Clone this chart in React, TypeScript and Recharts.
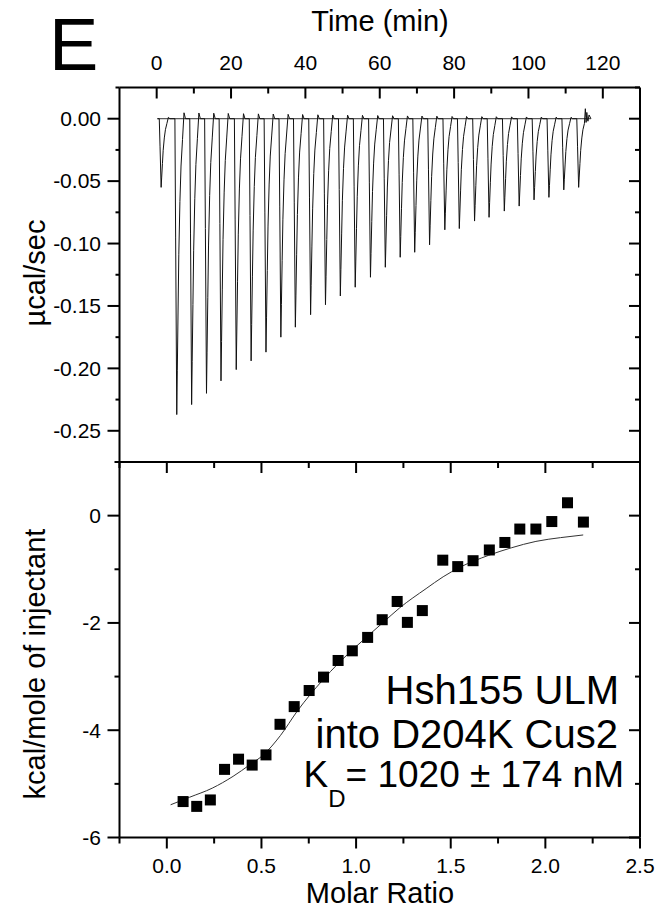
import React from 'react';
import { LineChart, ComposedChart, Line, Scatter, XAxis, YAxis } from 'recharts';

const FONT = "'Liberation Sans', Arial, Helvetica, sans-serif";

// upper panel: raw injection peaks (time of minimum in min, depth in µcal/sec)
const peakTimes = [
  1.2, 5.4, 9.4, 13.4, 17.3, 21.4, 25.4, 29.4, 33.4, 37.3, 41.4, 45.4, 49.4, 53.4, 57.5,
  61.5, 65.5, 69.4, 73.4, 77.5, 81.4, 85.5, 89.4, 93.5, 97.5, 101.5, 105.5, 109.5, 113.5,
];
const peakDepths = [
  -0.055, -0.237, -0.229, -0.22, -0.21, -0.201, -0.194, -0.187, -0.175, -0.167, -0.157, -0.149,
  -0.142, -0.135, -0.127, -0.119, -0.111, -0.107, -0.101, -0.089, -0.088, -0.082, -0.079, -0.074,
  -0.07, -0.065, -0.063, -0.057, -0.055,
];
// shape of a single peak around its minimum (min offset, fraction of depth)
const peakShapeDt = [-0.5, -0.3, 0, 0.15, 0.35, 0.55, 0.85, 1.15, 1.55, 1.95, 2.35];
const peakShapeFrac = [0, 0.4, 1, 0.85, 0.65, 0.46, 0.28, 0.16, 0.07, -0.02, 0];
// noisy end of the run
const tailTimes = [115.3, 115.5, 115.7, 116.0, 116.3, 116.8];
const tailPower = [0.008, -0.003, 0.005, -0.002, 0.003, 0];
const baselineTimes = [0.2, 116.8];

// lower panel: integrated heats
const molarRatio = [
  0.086, 0.158, 0.23, 0.305, 0.379, 0.451, 0.524, 0.598, 0.673, 0.752, 0.828, 0.905, 0.98, 1.061,
  1.138, 1.217, 1.271, 1.35, 1.458, 1.537, 1.618, 1.704, 1.786, 1.865, 1.95, 2.034, 2.117, 2.201,
];
const heat = [
  -5.33, -5.42, -5.3, -4.73, -4.54, -4.65, -4.46, -3.89, -3.56, -3.26, -3.01, -2.7, -2.52, -2.27,
  -1.94, -1.6, -1.99, -1.77, -0.83, -0.95, -0.84, -0.64, -0.5, -0.25, -0.25, -0.11, 0.24, -0.12,
];
const fitRatio = [
  0.02, 0.12, 0.24, 0.35, 0.44, 0.51, 0.6, 0.69, 0.82, 0.91, 1.0, 1.14, 1.23, 1.37, 1.46, 1.55,
  1.7, 1.82, 1.95, 2.08, 2.2,
];
const fitHeat = [
  -5.39, -5.25, -5.08, -4.86, -4.64, -4.46, -4.1, -3.64, -3.08, -2.74, -2.44, -2.0, -1.72, -1.36,
  -1.14, -0.96, -0.74, -0.6, -0.48, -0.41, -0.36,
];

// ticks
const timeTicks = [0, 10, 20, 30, 40, 50, 60, 70, 80, 90, 100, 110, 120];
const powerTicks = [
  -0.275, -0.25, -0.225, -0.2, -0.175, -0.15, -0.125, -0.1, -0.075, -0.05, -0.025, 0, 0.025,
];
const ratioTicks = [-0.25, 0, 0.25, 0.5, 0.75, 1, 1.25, 1.5, 1.75, 2, 2.25, 2.5];
const heatTicks = [-6, -5, -4, -3, -2, -1, 0, 1];

// layout (page pixels)
const W = 664;
const H = 913;
const L = 119.5;
const R = 640;
const T1 = 87.5;
const MID = 462;
const B2 = 837.5;

const trace: { t: number; p: number }[] = [{ t: 0.2, p: 0 }];
peakTimes.forEach((tm, i) => {
  peakShapeDt.forEach((dt, j) => {
    trace.push({ t: tm + dt, p: peakDepths[i] * peakShapeFrac[j] });
  });
});
tailTimes.forEach((t, i) => trace.push({ t, p: tailPower[i] }));
trace.sort((a, b) => a.t - b.t);

const baseline = baselineTimes.map((t) => ({ t, p: 0 }));
const points = molarRatio.map((x, i) => ({ x, y: heat[i] }));
const fit = fitRatio.map((x, i) => ({ x, y: fitHeat[i] }));

const frame = { stroke: '#000', strokeWidth: 2 };
const near = (a: number, b: number) => Math.abs(a - b) < 1e-6;
const isMult = (v: number, step: number) => near(Math.round(v / step) * step, v);

const labelStyle = { fontFamily: FONT, fontSize: 21, fill: '#000' };

const TimeTick = (p: any) => {
  const v = p.payload.value;
  const major = isMult(v, 20);
  return (
    <g>
      <line x1={p.x} x2={p.x} y1={T1} y2={T1 + (major ? 11 : 6)} stroke="#000" strokeWidth={2} />
      {major && (
        <text x={p.x} y={70} textAnchor="middle" {...labelStyle}>
          {v}
        </text>
      )}
    </g>
  );
};

const PowerLeftTick = (p: any) => {
  const v = p.payload.value;
  const major = isMult(v, 0.05);
  const show = major && v > -0.27 && v < 0.01;
  return (
    <g>
      <line x1={L - (major ? 12 : 4)} x2={L} y1={p.y} y2={p.y} stroke="#000" strokeWidth={2} />
      {show && (
        <text x={101} y={p.y} dy="0.35em" textAnchor="end" {...labelStyle}>
          {v.toFixed(2)}
        </text>
      )}
    </g>
  );
};

const makeRightTick = (step: number) => (p: any) => {
  const major = isMult(p.payload.value, step);
  return <line x1={R - (major ? 11 : 5)} x2={R} y1={p.y} y2={p.y} stroke="#000" strokeWidth={2} />;
};

const RatioTick = (p: any) => {
  const v = p.payload.value;
  const major = isMult(v, 0.5);
  return (
    <g>
      <line x1={p.x} x2={p.x} y1={B2} y2={B2 + (major ? 11 : 6)} stroke="#000" strokeWidth={2} />
      {major && (
        <text x={p.x} y={873} textAnchor="middle" {...labelStyle}>
          {v.toFixed(1)}
        </text>
      )}
    </g>
  );
};

const RatioTopTick = (p: any) => {
  const major = isMult(p.payload.value, 0.5);
  return <line x1={p.x} x2={p.x} y1={MID} y2={MID + (major ? 11 : 6)} stroke="#000" strokeWidth={2} />;
};

const HeatLeftTick = (p: any) => {
  const v = p.payload.value;
  const major = isMult(v, 2);
  return (
    <g>
      <line x1={L - (major ? 12 : 5)} x2={L} y1={p.y} y2={p.y} stroke="#000" strokeWidth={2} />
      {major && v < 0.5 && (
        <text x={101} y={p.y} dy="0.35em" textAnchor="end" {...labelStyle}>
          {v}
        </text>
      )}
    </g>
  );
};

const Square = (p: any) => <rect x={p.cx - 5.5} y={p.cy - 5.5} width={11} height={11} fill="#000" />;

const AX = 1; // thickness reserved by each axis

export default function App() {
  const box: React.CSSProperties = { position: 'absolute', left: 0, top: 0 };
  return (
    <div style={{ position: 'absolute', left: 0, top: 0, width: W, height: H, background: '#fff' }}>
      <div style={box}>
        <LineChart
          width={W}
          height={H}
          margin={{ top: T1 - AX, right: W - R - AX, bottom: H - MID - AX, left: L - AX }}
        >
          <XAxis
            xAxisId="top" orientation="top" type="number" dataKey="t" domain={[-10, 130]}
            ticks={timeTicks} interval={0} height={AX} tickSize={0} tickMargin={0}
            axisLine={frame} tickLine={false} tick={TimeTick} allowDataOverflow
          />
          <XAxis
            xAxisId="bot" orientation="bottom" type="number" dataKey="t" domain={[-10, 130]}
            ticks={[130]} height={AX} tickSize={0} axisLine={frame} tickLine={false} tick={false}
            allowDataOverflow
          />
          <YAxis
            yAxisId="left" orientation="left" type="number" dataKey="p" domain={[-0.275, 0.025]}
            ticks={powerTicks} interval={0} width={AX} tickSize={0} tickMargin={0}
            axisLine={frame} tickLine={false} tick={PowerLeftTick} allowDataOverflow
          />
          <YAxis
            yAxisId="right" orientation="right" type="number" dataKey="p" domain={[-0.275, 0.025]}
            ticks={powerTicks} interval={0} width={AX} tickSize={0} tickMargin={0}
            axisLine={frame} tickLine={false} tick={makeRightTick(0.05)} allowDataOverflow
          />
          <Line
            xAxisId="top" yAxisId="left" data={baseline} dataKey="p" stroke="#333"
            strokeWidth={1} dot={false} isAnimationActive={false} type="linear"
          />
          <Line
            xAxisId="top" yAxisId="left" data={trace} dataKey="p" stroke="#111"
            strokeWidth={1} dot={false} isAnimationActive={false} type="linear"
          />
          <Line
            xAxisId="bot" yAxisId="right" data={baseline} dataKey="p" stroke="none"
            dot={false} isAnimationActive={false}
          />
        </LineChart>
      </div>
      <div style={box}>
        <ComposedChart
          width={W}
          height={H}
          margin={{ top: MID - AX, right: W - R - AX, bottom: H - B2 - AX, left: L - AX }}
        >
          <XAxis
            xAxisId="b" orientation="bottom" type="number" dataKey="x" domain={[-0.25, 2.5]}
            ticks={ratioTicks} interval={0} height={AX} tickSize={0} tickMargin={0}
            axisLine={frame} tickLine={false} tick={RatioTick} allowDataOverflow
          />
          <XAxis
            xAxisId="t" orientation="top" type="number" dataKey="x" domain={[-0.25, 2.5]}
            ticks={ratioTicks} interval={0} height={AX} tickSize={0} tickMargin={0}
            axisLine={frame} tickLine={false} tick={RatioTopTick} allowDataOverflow
          />
          <YAxis
            yAxisId="l" orientation="left" type="number" dataKey="y" domain={[-6, 1]}
            ticks={heatTicks} interval={0} width={AX} tickSize={0} tickMargin={0}
            axisLine={frame} tickLine={false} tick={HeatLeftTick} allowDataOverflow
          />
          <YAxis
            yAxisId="r" orientation="right" type="number" dataKey="y" domain={[-6, 1]}
            ticks={heatTicks} interval={0} width={AX} tickSize={0} tickMargin={0}
            axisLine={frame} tickLine={false} tick={makeRightTick(2)} allowDataOverflow
          />
          <Line
            xAxisId="b" yAxisId="l" data={fit} dataKey="y" stroke="#333" strokeWidth={1}
            dot={false} isAnimationActive={false} type="monotone"
          />
          <Line
            xAxisId="t" yAxisId="r" data={fit} dataKey="y" stroke="none"
            dot={false} isAnimationActive={false}
          />
          <Scatter
            xAxisId="b" yAxisId="l" data={points} dataKey="y" shape={Square}
            isAnimationActive={false}
          />
        </ComposedChart>
      </div>
      <svg width={W} height={H} style={{ ...box, pointerEvents: 'none' }}>
        <g fontFamily={FONT} fill="#000">
          <text x={49} y={70} fontSize={74}>E</text>
          <text x={380} y={31} fontSize={29} textAnchor="middle">Time (min)</text>
          <text x={380} y={903} fontSize={29} textAnchor="middle">Molar Ratio</text>
          <text transform="translate(45,273) rotate(-90)" fontSize={29} textAnchor="middle">
            µcal/sec
          </text>
          <text transform="translate(45,664) rotate(-90)" fontSize={29} textAnchor="middle">
            kcal/mole of injectant
          </text>
          <text x={619} y={704} fontSize={40} textAnchor="end">Hsh155 ULM</text>
          <text x={618} y={748} fontSize={40} textAnchor="end">into D204K Cus2</text>
          <text x={624} y={787} fontSize={37} textAnchor="end">
            K<tspan fontSize={24} dy={20}>D</tspan>
            <tspan dy={-20}>= 1020 ± 174 nM</tspan>
          </text>
        </g>
      </svg>
    </div>
  );
}
